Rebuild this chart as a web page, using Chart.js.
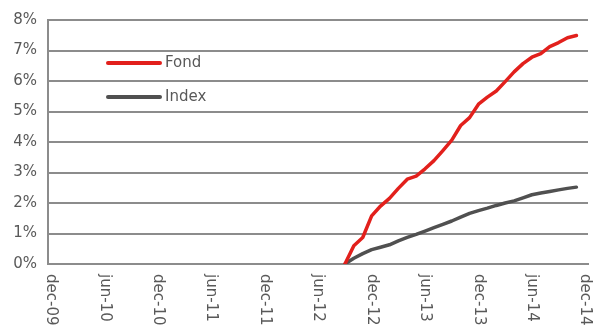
<!DOCTYPE html>
<html>
<head>
<meta charset="utf-8">
<script src="https://cdn.jsdelivr.net/npm/chart.js@4/dist/chart.umd.min.js"></script>
<style>
	html, body { margin: 0; padding: 0; background: #fff; }
	#wrap { width: 593px; height: 327px; }
</style>
</head>
<body>
<div id="wrap"><canvas id="perf-chart"></canvas></div>
<script>
// x axis is months counted from dec-09; a label every six months
const tickLabels = ["dec-09", "jun-10", "dec-10", "jun-11", "dec-11", "jun-12", "dec-12", "jun-13", "dec-13", "jun-14", "dec-14"];
const tickStep = 6;
const startMonth = 33; // sep-12, first month of the series

const fondValues = [0, 0.6, 0.87, 1.58, 1.9, 2.15, 2.48, 2.78, 2.88, 3.12, 3.39, 3.72, 4.06, 4.54, 4.8, 5.24, 5.47, 5.67, 5.98, 6.3, 6.57, 6.78, 6.9, 7.13, 7.26, 7.42, 7.49];
const indexValues = [0, 0.19, 0.34, 0.47, 0.55, 0.63, 0.76, 0.87, 0.97, 1.08, 1.19, 1.3, 1.41, 1.54, 1.66, 1.75, 1.83, 1.92, 2.0, 2.07, 2.17, 2.27, 2.33, 2.38, 2.43, 2.48, 2.52];

const theme = {
	text: "#595959",
	grid: "#8c8c8c",
	fond: "#e2201c",
	index: "#505050",
	font: "DejaVu Sans"
};

function toPoints(values) {
	return values.map((v, i) => ({ x: startMonth + i, y: v }));
}

// rotated month labels under the x axis (clockwise, reading downward)
const monthLabels = {
	id: "monthLabels",
	afterDraw(chart) {
		const { ctx, scales: { x }, chartArea } = chart;
		ctx.save();
		ctx.fillStyle = theme.text;
		ctx.font = `15px "${theme.font}"`;
		ctx.textAlign = "left";
		ctx.textBaseline = "middle";
		tickLabels.forEach((label, i) => {
			const px = x.getPixelForValue(i * tickStep);
			ctx.save();
			ctx.translate(px, chartArea.bottom + 10);
			ctx.rotate(Math.PI / 2);
			ctx.fillText(label, 0, 0);
			ctx.restore();
		});
		ctx.restore();
	}
};

// legend sitting inside the plot, upper left
const innerLegend = {
	id: "innerLegend",
	afterDraw(chart) {
		const { ctx } = chart;
		ctx.save();
		ctx.font = `15px "${theme.font}"`;
		ctx.textBaseline = "middle";
		ctx.lineCap = "round";
		chart.data.datasets.forEach((ds, i) => {
			const y = 63 + i * 34;
			ctx.strokeStyle = ds.borderColor;
			ctx.lineWidth = 4;
			ctx.beginPath();
			ctx.moveTo(108, y);
			ctx.lineTo(160, y);
			ctx.stroke();
			ctx.fillStyle = theme.text;
			ctx.fillText(ds.label, 165, y);
		});
		ctx.restore();
	}
};

new Chart(document.getElementById("perf-chart"), {
	type: "line",
	data: {
		datasets: [
			{
				label: "Fond",
				data: toPoints(fondValues),
				borderColor: theme.fond,
				borderWidth: 3.5,
				pointRadius: 0,
				tension: 0,
				borderJoinStyle: "round",
				borderCapStyle: "round"
			},
			{
				label: "Index",
				data: toPoints(indexValues),
				borderColor: theme.index,
				borderWidth: 3.5,
				pointRadius: 0,
				tension: 0,
				borderJoinStyle: "round",
				borderCapStyle: "round"
			}
		]
	},
	options: {
		responsive: true,
		maintainAspectRatio: false,
		animation: false,
		layout: { padding: { top: 19, right: 5, left: 0, bottom: 0 } },
		plugins: {
			legend: { display: false },
			tooltip: { enabled: false }
		},
		scales: {
			x: {
				type: "linear",
				min: -0.35,
				max: 60.3,
				grid: { display: false, drawTicks: false },
				border: { display: true, color: theme.grid, width: 2 },
				ticks: { display: false },
				afterFit(scale) { scale.height = 63; }
			},
			y: {
				min: 0,
				max: 8,
				grid: { color: theme.grid, lineWidth: 2, drawTicks: false },
				border: { display: true, color: theme.grid, width: 2 },
				ticks: {
					stepSize: 1,
					padding: 11,
					color: theme.text,
					font: { family: theme.font, size: 15 },
					callback: (v) => v + "%"
				},
				afterFit(scale) { scale.width = 48; }
			}
		}
	},
	plugins: [monthLabels, innerLegend]
});
</script>
</body>
</html>
